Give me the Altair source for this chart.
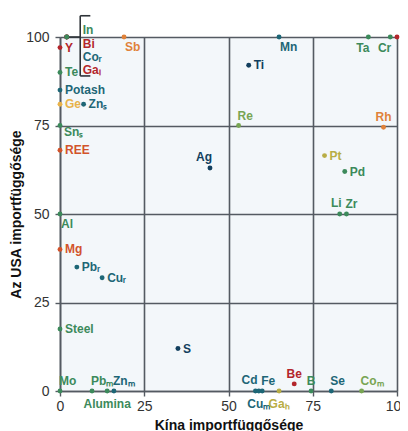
import altair as alt
import pandas as pd

# ---- data ----
names = ["Bi", "Coᵣ", "Gaₗ", "In", "Y", "Sb", "Te", "Potash", "Ge", "Znₛ", "Snₛ", "REE",
         "Ag", "Ti", "Mn", "Ta", "Cr", "Nb", "Re", "Rh", "Pt", "Pd", "Li", "Zr",
         "Al", "Mg", "Pbᵣ", "Cuᵣ", "Steel", "S", "Mo", "Pbₘ", "Znₘ", "Alumina",
         "Cd", "Fe", "Cuₘ", "Gaₕ", "Be", "B", "Se", "Coₘ"]
china = [2, 2, 2, 2, 0, 19, 0, 0, 0, 7, 0, 0,
         44.5, 56, 65, 91.5, 98, 100, 53, 96, 78.5, 84.5, 83, 85,
         0, 0, 5, 12.5, 0, 35, 0, 9.5, 16, 14,
         58, 60, 59, 65, 69.5, 74.5, 80.5, 89.5]
usa = [100, 100, 100, 100, 97, 100, 90, 85, 81, 81, 75, 68,
       63, 92, 100, 100, 100, 100, 75, 74.5, 66.5, 62, 50, 50,
       50, 40, 35, 32, 17.5, 12, 0, 0, 0, 0,
       0, 0, 0, 0, 2, 0, 0, 0]
group = ["red", "teal", "red", "green", "red", "orange", "green", "teal", "amber", "teal", "green", "vermilion",
         "navy", "navy", "teal", "green", "green", "red", "lime", "orange", "olive", "green", "green", "green",
         "green", "vermilion", "teal", "teal", "green", "navy", "green", "green", "teal", "green",
         "teal", "teal", "teal", "olive", "red", "green", "teal", "lime"]
place = ["s1", "s2", "s3", "s0", "r", "br", "r", "r", "r", "r", "rb", "r",
         "tl", "r", "br", "bl", "bl", "r", "tr", "t", "r", "r", "tl", "tr",
         "br", "r", "r", "r", "r", "r", "tr", "tr", "tr", "b",
         "tl", "tr", "b", "b", "t", "t", "tr", "tr"]

group_names = ["green", "teal", "navy", "red", "orange", "vermilion", "amber", "olive", "lime"]
group_colors = ["#3c8a5b", "#1d6676", "#123f5e", "#b3262b", "#e0823a", "#d2532b", "#e8b24a", "#b8ad45", "#78a553"]

# bracket annotation (data units)
br_x1 = [2, 6, 6, 6]
br_x2 = [6, 6, 9, 9]
br_y1 = [100, 89, 106, 89]
br_y2 = [100, 106, 106, 89]

df = pd.DataFrame(dict(name=names, china=china, usa=usa, group=group, place=place))
bdf = pd.DataFrame(dict(x1=br_x1, x2=br_x2, y1=br_y1, y2=br_y2))

FONT = "Liberation Sans"
xs = alt.Scale(domain=[0, 100], nice=False)
ys = alt.Scale(domain=[0, 100], nice=False)
ticks = [0, 25, 50, 75, 100]

xenc = alt.X("china:Q", scale=xs,
             axis=alt.Axis(values=ticks, title="Kína importfüggősége", grid=True))
yenc = alt.Y("usa:Q", scale=ys,
             axis=alt.Axis(values=ticks, title="Az USA importfüggősége", grid=True))
cenc = alt.Color("group:N", scale=alt.Scale(domain=group_names, range=group_colors), legend=None)

base = alt.Chart(df).encode(x=xenc, y=yenc, color=cenc)

points = base.mark_circle(size=24, opacity=1)

placements = {
    "r": (5, 0, "left"),
    "rb": (4, 6, "left"),
    "br": (1, 10, "left"),
    "bl": (1, 11, "right"),
    "b": (0, 13, "center"),
    "t": (0, -10, "center"),
    "tr": (-1, -10, "left"),
    "tl": (2, -11, "right"),
    "s0": (16, -7, "left"),
    "s1": (16, 7, "left"),
    "s2": (16, 20, "left"),
    "s3": (16, 33, "left"),
}

layers = [points]
for p, (dx, dy, al) in placements.items():
    layers.append(
        base.transform_filter(alt.datum.place == p)
        .mark_text(dx=dx, dy=dy, align=al, baseline="middle", font=FONT,
                   fontSize=12, fontWeight="bold")
        .encode(text="name:N")
    )

bracket = alt.Chart(bdf).mark_rule(color="#2e3338", strokeWidth=1.6).encode(
    x=alt.X("x1:Q", scale=xs), x2="x2:Q",
    y=alt.Y("y1:Q", scale=ys), y2="y2:Q")

chart = alt.layer(bracket, *layers).properties(
    width=337, height=354,
    autosize=alt.AutoSizeParams(type="none"),
    padding={"left": 52, "top": 29, "right": 3, "bottom": 40},
    background="white",
).configure_view(
    fill="#f3f7fa", stroke="transparent"
).configure_axis(
    gridColor="#545a62", gridWidth=1.6, gridOpacity=1,
    domainColor="#545a62", domainWidth=1.6,
    tickColor="#545a62", tickSize=5, tickWidth=1.4,
    labelFont=FONT, labelFontSize=14, labelColor="#333333",
    titleFont=FONT, titleFontSize=14, titleFontWeight="bold", titleColor="#111111",
).configure_axisX(
    labelPadding=3, titlePadding=5, labelFlush=False
).configure_axisY(
    labelPadding=6, titlePadding=2, labelFlush=False
)

chart.save("out.html", embed_options={"renderer": "svg", "actions": False})
